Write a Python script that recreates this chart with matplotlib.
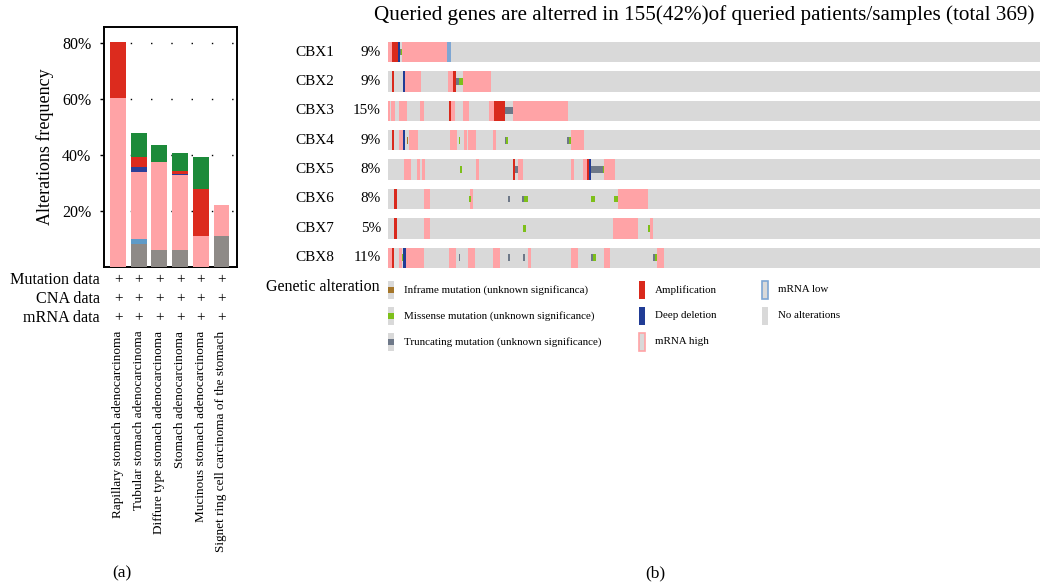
import numpy as np
import matplotlib
matplotlib.use("Agg")
import matplotlib.pyplot as plt
from matplotlib.patches import Rectangle

plt.rcParams['font.family'] = ['Liberation Serif', 'DejaVu Serif']

# ---- panel (a): alteration frequency per cancer type ----
tipos = ['Rapillary stomach adenocarcinoma', 'Tubular stomach adenocarcinoma',
         'Diffure type stomach adenocarcinoma', 'Stomach adenocarcinoma',
         'Mucinous stomach adenocarcinoma', 'Signet ring cell carcinoma of the stomach']
multiplas = [0, 8.3, 5.9, 6.0, 0, 11.0]
mrna_baixo = [0, 1.7, 0, 0, 0, 0]
mrna_alto = [60.4, 24.0, 31.5, 26.8, 11.0, 11.3]
delecao = [0, 1.8, 0, 0.4, 0, 0]
amplificacao = [20.1, 3.6, 0, 1.1, 17.0, 0]
mutacao = [0, 8.4, 6.2, 6.3, 11.2, 0]
linhas_dados = ['Mutation data', 'CNA data', 'mRNA data']

# ---- panel (b): oncoprint ----
total_amostras = 369
genes = ['CBX1', 'CBX2', 'CBX3', 'CBX4', 'CBX5', 'CBX6', 'CBX7', 'CBX8']
percentuais = ['9%', '9%', '15%', '9%', '8%', '8%', '5%', '11%']
# (inicio, largura, tipo) in sample units
alteracoes = {
    'CBX1': [(0, 2.5, 'high'), (2.5, 3, 'amp'), (5.5, 1.2, 'del'), (6.8, 0.8, 'trunc'),
             (7.6, 0.6, 'miss'), (8.2, 25.3, 'high'), (33.5, 2, 'low')],
    'CBX2': [(2.3, 1.1, 'amp'), (8.5, 1.1, 'del'), (9.6, 9.1, 'high'), (34, 3, 'high'),
             (37, 1.5, 'amp'), (38.5, 1.5, 'trunc'), (40, 2.5, 'miss'), (42.5, 16, 'high')],
    'CBX3': [(0, 1, 'high'), (1.5, 2.5, 'high'), (6, 5, 'high'), (18, 2.5, 'high'),
             (34.5, 1, 'amp'), (35.5, 2.5, 'high'), (42.5, 3.5, 'high'), (57, 3, 'high'),
             (60, 6, 'amp'), (66, 5, 'trunc'), (71, 31, 'high')],
    'CBX4': [(2.5, 1, 'amp'), (6, 2.5, 'high'), (8.5, 1.1, 'del'), (10.5, 1, 'inframe'),
             (12, 5, 'high'), (35, 4, 'high'), (40, 1, 'miss'), (43, 1.7, 'high'),
             (45, 5, 'high'), (59.5, 1.5, 'high'), (66, 1, 'trunc'), (67, 1, 'miss'),
             (101.5, 0.8, 'trunc'), (102.3, 1.2, 'miss'), (103.5, 7.5, 'high')],
    'CBX5': [(9, 1.5, 'high'), (11, 2, 'high'), (16.5, 1.5, 'high'), (19, 2, 'high'),
             (41, 1, 'miss'), (50, 1.5, 'high'), (71, 1, 'amp'), (72, 1.5, 'trunc'),
             (73.5, 3, 'high'), (103.5, 2, 'high'), (110.5, 2, 'high'), (112.5, 1.5, 'amp'),
             (114, 1, 'del'), (115, 6.5, 'trunc'), (121.5, 0.5, 'miss'), (122, 6.5, 'high')],
    'CBX6': [(3.5, 1.5, 'amp'), (20.5, 3, 'high'), (46, 1, 'miss'), (46.5, 1.5, 'high'),
             (68, 1, 'trunc'), (76, 1, 'trunc'), (77, 2, 'miss'), (115, 2, 'miss'),
             (128, 2, 'miss'), (130, 17, 'high')],
    'CBX7': [(3.5, 1.5, 'amp'), (20.5, 3, 'high'), (76.5, 1.5, 'miss'), (127.5, 14, 'high'),
             (147, 1, 'miss'), (148, 2, 'high')],
    'CBX8': [(0, 2.3, 'high'), (2.3, 1.1, 'amp'), (6, 2, 'high'), (7.8, 0.7, 'miss'),
             (8.5, 1.5, 'del'), (10, 10.5, 'high'), (34.5, 4, 'high'), (40, 1, 'trunc'),
             (45, 4, 'high'), (59.5, 4, 'high'), (68, 1, 'trunc'), (76.5, 1, 'trunc'),
             (79, 2, 'high'), (103.5, 4, 'high'), (115, 1, 'trunc'), (116, 2, 'miss'),
             (122.5, 3, 'high'), (150, 1, 'trunc'), (151, 1, 'miss'), (152, 4, 'high')],
}

cores = {'high': '#ffa3a6', 'amp': '#d9291c', 'del': '#213c95', 'low': '#7ea6d3',
         'miss': '#7dbf1a', 'trunc': '#6e7888', 'inframe': '#a5762a', 'none': '#d9d9d9'}

fig = plt.figure(figsize=(10.4, 5.88), dpi=100)
W, H = 1040, 588

def px_rect(x0, y0, x1, y1):
    return [x0 / W, 1 - y1 / H, (x1 - x0) / W, (y1 - y0) / H]

# overlay axes in pixel units for free text / legend
axp = fig.add_axes([0, 0, 1, 1])
axp.set_xlim(0, W)
axp.set_ylim(H, 0)
axp.axis('off')

# ---------- (a) ----------
ax = fig.add_axes(px_rect(104, 27, 237, 267))
x = np.arange(len(tipos))
fundo = np.zeros(len(tipos))
for vals, cor in [(multiplas, '#8e8a87'), (mrna_baixo, '#5f9bc8'), (mrna_alto, '#ffa3a6'),
                  (delecao, '#2b3f98'), (amplificacao, '#dc2b1e'), (mutacao, '#1c8a3a')]:
    ax.bar(x, vals, bottom=fundo, width=0.77, color=cor, zorder=3)
    fundo = fundo + np.array(vals)
ax.set_xlim(-0.68, 5.75)
ax.set_ylim(0, 85.8)
ax.set_yticks([20, 40, 60, 80])
ax.set_yticklabels(['20%', '40%', '60%', '80%'], fontsize=11.5)
ax.set_xticks([])
ax.tick_params(axis='y', length=3, width=1, pad=6)
ax.yaxis.grid(True, color='black', linestyle=(10.3, (1, 13.6)), linewidth=1, zorder=0)
ax.set_ylabel('Alterations frequency', fontsize=13, labelpad=6)
for s in ax.spines.values():
    s.set_linewidth(1.4)

for k, nome in enumerate(linhas_dados):
    yy = -0.054 - k * 0.079
    ax.text(-0.03, yy, nome, transform=ax.transAxes, ha='right', va='center', fontsize=11.6)
    for xi in x:
        ax.text(xi, yy, '+', transform=ax.get_xaxis_transform(), ha='center', va='center',
                fontsize=11)
for xi, nome in zip(x, tipos):
    ax.text(xi, -0.265, nome, transform=ax.get_xaxis_transform(), rotation=90,
            ha='center', va='top', fontsize=9.5)

# ---------- (b) ----------
axb = fig.add_axes(px_rect(388, 37.3, 1040, 272.5))
axb.set_xlim(0, total_amostras)
axb.set_ylim(len(genes), 0)
axb.axis('off')
alt_trilha = 0.70
base = 0.15
for i, g in enumerate(genes):
    axb.bar(0, alt_trilha, bottom=i + base, width=total_amostras, align='edge',
            color=cores['none'], linewidth=0)
    grandes = [a for a in alteracoes[g] if a[2] in ('high', 'low', 'amp', 'del')]
    pequenas = [a for a in alteracoes[g] if a[2] in ('miss', 'trunc', 'inframe')]
    for ini, larg, tipo in grandes:
        axb.bar(ini, alt_trilha, bottom=i + base, width=larg, align='edge',
                color=cores[tipo], linewidth=0)
    for ini, larg, tipo in pequenas:
        axb.bar(ini, alt_trilha / 3, bottom=i + base + alt_trilha / 3, width=larg,
                align='edge', color=cores[tipo], linewidth=0)
    axb.text(-52.6, i + 0.5, g, ha='left', va='center', fontsize=11)
    axb.text(-4, i + 0.5, percentuais[i], ha='right', va='center', fontsize=11)

axp.text(704, 15, 'Queried genes are alterred in 155(42%)of queried patients/samples (total 369)',
         ha='center', va='center', fontsize=15.2)

# legend
axp.text(266, 287, 'Genetic alteration', ha='left', va='center', fontsize=11.5)
itens = [
    (388, 290, 'inframe', 'Inframe mutation (unknown significanca)'),
    (388, 316, 'miss', 'Missense mutation (unknown significance)'),
    (388, 342, 'trunc', 'Truncating mutation (unknown significance)'),
    (639, 290, 'amp', 'Amplification'),
    (639, 316, 'del', 'Deep deletion'),
    (639, 342, 'high_leg', 'mRNA high'),
    (762, 290, 'low_leg', 'mRNA low'),
    (762, 316, 'none', 'No alterations'),
]
for lx, ly, tipo, rot in itens:
    if tipo in ('inframe', 'miss', 'trunc'):
        axp.add_patch(Rectangle((lx, ly - 9), 6, 18, color=cores['none'], lw=0))
        axp.add_patch(Rectangle((lx, ly - 3), 6, 6, color=cores[tipo], lw=0))
    elif tipo == 'high_leg':
        axp.add_patch(Rectangle((lx, ly - 9), 6, 18, facecolor=cores['none'],
                                edgecolor=cores['high'], lw=1.2))
    elif tipo == 'low_leg':
        axp.add_patch(Rectangle((lx, ly - 9), 6, 18, facecolor=cores['none'],
                                edgecolor=cores['low'], lw=1.2))
    else:
        axp.add_patch(Rectangle((lx, ly - 9), 6, 18, color=cores[tipo], lw=0))
    axp.text(lx + 16, ly, rot, ha='left', va='center', fontsize=7.9)

axp.text(122, 573, '(a)', ha='center', va='center', fontsize=12.5)
axp.text(655, 573, '(b)', ha='center', va='center', fontsize=12.5)

fig.savefig('out.png', dpi=100)
